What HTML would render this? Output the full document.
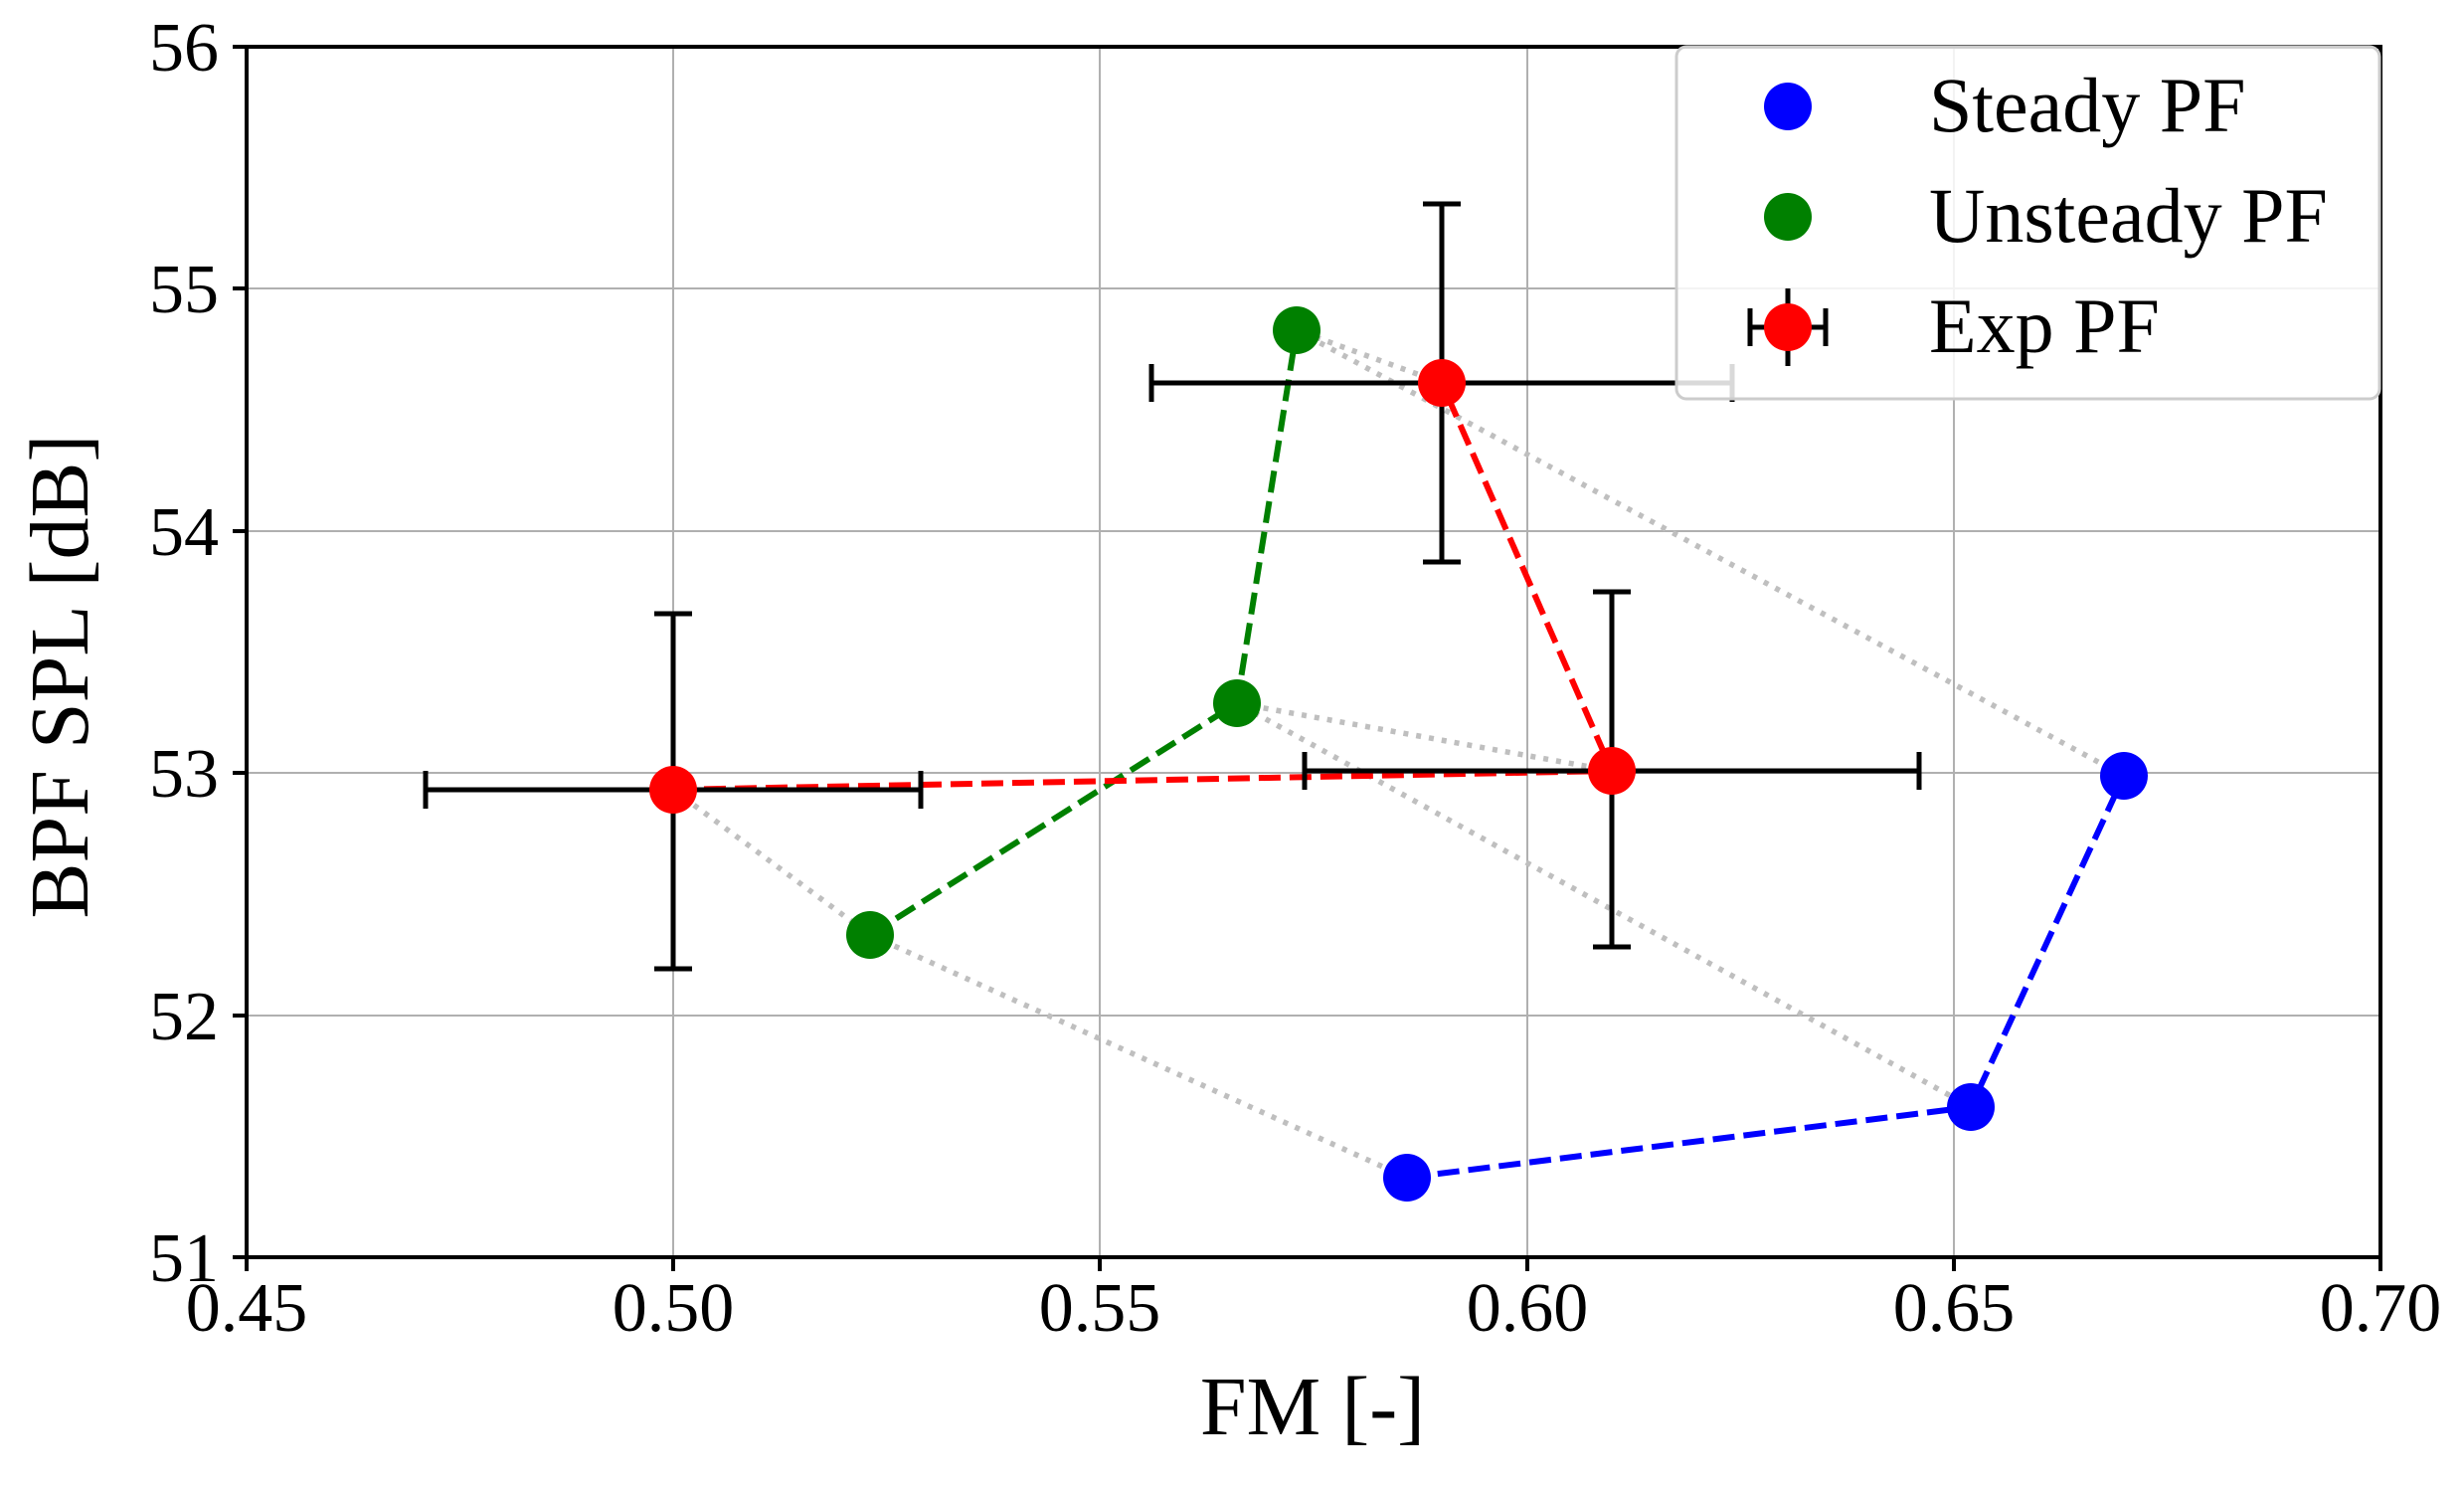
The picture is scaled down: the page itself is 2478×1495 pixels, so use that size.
<!DOCTYPE html>
<html><head><meta charset="utf-8"><style>html,body{margin:0;padding:0;background:#fff}</style></head>
<body>
<svg width="2478" height="1490" viewBox="0 0 2478 1490" xmlns="http://www.w3.org/2000/svg" font-family="'Liberation Serif', serif">
<rect width="2478" height="1490" fill="#fff"/>
<g stroke="#b0b0b0" stroke-width="2">
<line x1="677" y1="47" x2="677" y2="1264"/><line x1="1106" y1="47" x2="1106" y2="1264"/>
<line x1="1536" y1="47" x2="1536" y2="1264"/><line x1="1965" y1="47" x2="1965" y2="1264"/>
<line x1="248" y1="290" x2="2394" y2="290"/><line x1="248" y1="534" x2="2394" y2="534"/>
<line x1="248" y1="777" x2="2394" y2="777"/><line x1="248" y1="1021" x2="2394" y2="1021"/>
</g>
<g fill="none" stroke="#bfbfbf" stroke-width="5.5" stroke-dasharray="5,8">
<polyline points="677,794 875,940 1415,1184"/>
<polyline points="1621,775 1244,707 1982,1113"/>
<polyline points="1450,385 1304,332 2136,780"/>
</g>
<g fill="none" stroke-width="6" stroke-dasharray="22,9">
<polyline stroke="#0000ff" points="1415,1184 1982,1113 2136,780"/>
<polyline stroke="#008000" points="875,940 1244,707 1304,332"/>
<polyline stroke="#ff0000" points="677,794 1621,775 1450,385"/>
</g>
<g stroke="#000" stroke-width="5">
<line x1="428" y1="794" x2="926" y2="794"/><line x1="428" y1="775" x2="428" y2="813"/><line x1="926" y1="775" x2="926" y2="813"/>
<line x1="677" y1="617" x2="677" y2="974"/><line x1="658" y1="617" x2="696" y2="617"/><line x1="658" y1="974" x2="696" y2="974"/>
<line x1="1312" y1="775" x2="1930" y2="775"/><line x1="1312" y1="756" x2="1312" y2="794"/><line x1="1930" y1="756" x2="1930" y2="794"/>
<line x1="1621" y1="595" x2="1621" y2="952"/><line x1="1602" y1="595" x2="1640" y2="595"/><line x1="1602" y1="952" x2="1640" y2="952"/>
<line x1="1158" y1="385" x2="1742" y2="385"/><line x1="1158" y1="366" x2="1158" y2="404"/><line x1="1742" y1="366" x2="1742" y2="404"/>
<line x1="1450" y1="205" x2="1450" y2="565"/><line x1="1431" y1="205" x2="1469" y2="205"/><line x1="1431" y1="565" x2="1469" y2="565"/>
</g>
<g fill="#0000ff"><circle cx="1415" cy="1184" r="24"/><circle cx="1982" cy="1113" r="24"/><circle cx="2136" cy="780" r="24"/></g>
<g fill="#008000"><circle cx="875" cy="940" r="24"/><circle cx="1244" cy="707" r="24"/><circle cx="1304" cy="332" r="24"/></g>
<g fill="#ff0000"><circle cx="677" cy="794" r="24"/><circle cx="1621" cy="775" r="24"/><circle cx="1450" cy="385" r="24"/></g>
<rect x="248" y="47" width="2146" height="1217" fill="none" stroke="#000" stroke-width="4"/>
<g stroke="#000" stroke-width="4">
<line x1="248" y1="1264" x2="248" y2="1278"/><line x1="677" y1="1264" x2="677" y2="1278"/><line x1="1106" y1="1264" x2="1106" y2="1278"/><line x1="1536" y1="1264" x2="1536" y2="1278"/><line x1="1965" y1="1264" x2="1965" y2="1278"/><line x1="2394" y1="1264" x2="2394" y2="1278"/>
<line x1="234" y1="47" x2="248" y2="47"/><line x1="234" y1="290" x2="248" y2="290"/><line x1="234" y1="534" x2="248" y2="534"/><line x1="234" y1="777" x2="248" y2="777"/><line x1="234" y1="1021" x2="248" y2="1021"/><line x1="234" y1="1264" x2="248" y2="1264"/>
</g>
<g font-size="70" fill="#000" text-anchor="middle">
<text x="248" y="1338">0.45</text><text x="677" y="1338">0.50</text><text x="1106" y="1338">0.55</text><text x="1536" y="1338">0.60</text><text x="1965" y="1338">0.65</text><text x="2394" y="1338">0.70</text>
</g>
<g font-size="70" fill="#000" text-anchor="end">
<text x="220" y="71">56</text><text x="220" y="314">55</text><text x="220" y="558">54</text><text x="220" y="801">53</text><text x="220" y="1045">52</text><text x="220" y="1288">51</text>
</g>
<text x="1320" y="1442" font-size="84" text-anchor="middle">FM [-]</text>
<text transform="translate(88,680) rotate(-90)" font-size="84" text-anchor="middle">BPF SPL [dB]</text>
<rect x="1686" y="47" width="707" height="354" rx="10" fill="#fff" fill-opacity="0.85" stroke="#cccccc" stroke-width="3"/>
<circle cx="1798" cy="107" r="24" fill="#0000ff"/>
<circle cx="1798" cy="218" r="24" fill="#008000"/>
<g stroke="#000" stroke-width="5"><line x1="1760" y1="329" x2="1836" y2="329"/><line x1="1760" y1="310" x2="1760" y2="348"/><line x1="1836" y1="310" x2="1836" y2="348"/><line x1="1798" y1="290" x2="1798" y2="368"/></g>
<circle cx="1798" cy="329" r="24" fill="#ff0000"/>
<g font-size="78" fill="#000">
<text x="1940" y="132">Steady PF</text><text x="1940" y="243">Unsteady PF</text><text x="1940" y="354">Exp PF</text>
</g>
</svg>
</body></html>
